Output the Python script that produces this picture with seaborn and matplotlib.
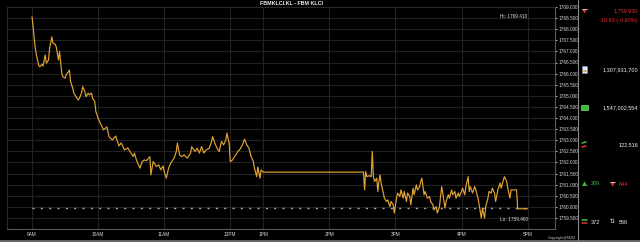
import numpy as np
import pandas as pd
import matplotlib
matplotlib.use("Agg")
import matplotlib.pyplot as plt
import seaborn as sns

# ---------------- data ----------------
# session minutes on the chart's (lunch-compressed) time axis, 0 = 9AM
minutes = [0, 1, 2, 3, 4, 6, 7, 9, 10, 12, 13, 15, 16, 18, 19, 21, 22, 24, 25, 27,
           28, 30, 31, 33, 34, 35, 37, 38, 40, 42, 43, 45, 46, 48, 49, 51, 52, 54, 55, 57,
           58, 60, 62, 65, 68, 70, 73, 76, 79, 81, 84, 87, 89, 92, 93, 95, 98, 100, 102, 104,
           107, 108, 110, 113, 115, 117, 119, 120, 122, 124, 126, 129, 131, 132, 134, 136, 138, 141, 144, 145,
           148, 150, 152, 154, 156, 158, 161, 163, 164, 166, 168, 170, 172, 174, 176, 177, 179, 180, 182, 185,
           187, 189, 191, 193, 195, 197, 199, 201, 202, 204, 205, 207, 208, 210, 301, 302, 303, 304, 306, 308,
           309, 310, 311, 313, 314, 315, 316, 317, 319, 320, 322, 323, 325, 326, 328, 329, 331, 332, 334, 335,
           337, 338, 340, 341, 343, 344, 346, 347, 349, 350, 352, 353, 354, 356, 357, 359, 361, 362, 364, 365,
           367, 368, 370, 372, 373, 375, 376, 378, 379, 381, 382, 384, 385, 387, 388, 390, 391, 393, 394, 396,
           397, 398, 400, 402, 403, 405, 406, 408, 409, 411, 412, 414, 415, 417, 418, 420, 421, 423, 425, 426,
           428, 429, 431, 432, 434, 435, 440, 441, 450]
prices = [1768.56, 1768.11, 1767.59, 1767.14, 1766.84, 1766.39, 1766.31, 1766.42, 1766.34, 1766.84,
          1766.47, 1766.61, 1767.14, 1767.66, 1767.37, 1767.32, 1767.21, 1766.61, 1766.99, 1766.02,
          1765.86, 1765.79, 1765.94, 1766.09, 1766.16, 1765.64, 1765.34, 1765.12, 1764.96, 1764.81,
          1764.89, 1765.12, 1765.41, 1765.19, 1764.96, 1765.12, 1765.04, 1765.12, 1764.89, 1764.74,
          1764.29, 1763.99, 1763.77, 1763.46, 1763.60, 1763.15, 1763.01, 1763.19, 1762.74, 1762.88,
          1762.56, 1762.65, 1762.49, 1762.26, 1762.42, 1762.08, 1761.74, 1762.04, 1762.11, 1762.08,
          1762.26, 1761.44, 1762.04, 1761.81, 1761.89, 1761.66, 1761.84, 1761.59, 1761.29, 1761.74,
          1761.97, 1762.19, 1762.49, 1762.87, 1762.34, 1762.26, 1762.34, 1762.19, 1762.42, 1762.71,
          1762.49, 1762.64, 1762.42, 1762.71, 1762.42, 1762.56, 1762.64, 1762.94, 1763.16, 1762.87,
          1762.64, 1762.49, 1762.94, 1762.79, 1763.01, 1763.32, 1762.87, 1762.04, 1762.11, 1762.34,
          1762.49, 1762.60, 1762.79, 1763.05, 1762.79, 1762.64, 1762.26, 1762.04, 1761.74, 1761.36,
          1761.79, 1761.29, 1761.66, 1761.56, 1761.56, 1760.76, 1761.59, 1761.36, 1761.40, 1761.36,
          1762.49, 1761.36, 1761.14, 1761.29, 1760.69, 1761.14, 1761.44, 1761.07, 1760.62, 1760.39,
          1760.24, 1760.31, 1760.01, 1760.24, 1760.09, 1759.72, 1760.39, 1760.62, 1760.46, 1760.76,
          1760.39, 1760.69, 1760.24, 1760.62, 1760.46, 1760.09, 1760.84, 1760.54, 1760.99, 1760.76,
          1760.91, 1761.14, 1761.29, 1760.54, 1760.69, 1760.39, 1760.46, 1760.24, 1760.09, 1759.86,
          1760.01, 1759.72, 1760.01, 1760.91, 1760.62, 1759.94, 1760.24, 1760.54, 1760.39, 1760.76,
          1760.54, 1760.69, 1760.39, 1760.62, 1760.46, 1760.69, 1760.84, 1760.54, 1760.91, 1761.36,
          1760.69, 1760.91, 1760.62, 1760.91, 1760.76, 1760.39, 1760.09, 1759.49, 1759.94, 1759.49,
          1760.01, 1760.39, 1760.69, 1760.62, 1760.84, 1760.62, 1760.24, 1760.76, 1761.07, 1760.84,
          1761.21, 1761.36, 1761.14, 1760.84, 1760.39, 1760.76, 1760.76, 1759.91, 1759.91]

tick_minutes = [0, 60, 120, 180, 210, 270, 330, 390, 450]
tick_labels = ["9AM", "10AM", "11AM", "12PM", "1PM", "2PM", "3PM", "4PM", "5PM"]
y_ticks = [1759.5 + 0.5 * i for i in range(20)]

title = "FBMKLCI.KL - FBM KLCI"
last_price = 1759.93
hi_label = "Hi: 1769.410"
lo_label = "Lo: 1759.460"
last_text = "1,759.930"
change_text = "-10.60 (-0.60%)"
volume_text = "1,307,931,700"
value_text = "1,547,002,554"
trades_text = "122,516"
up_count, down_count = "209", "644"
unch_count, untraded_count = "372", "566"

df = pd.DataFrame({"minute": minutes, "price": prices})

# ---------------- style ----------------
sns.set_theme(style="dark")
FONT = ["Liberation Sans", "DejaVu Sans"]
plt.rcParams["font.family"] = FONT

BG = "#000000"
GRID = "#222222"
LINE = "#e3a432"
TXT = "#d8d8d8"

fig = plt.figure(figsize=(6.4, 2.42), dpi=100, facecolor=BG)
ax = fig.add_axes([7 / 640, 13 / 242, 548 / 640, 222 / 242], facecolor=BG)

sns.lineplot(data=df, x="minute", y="price", ax=ax, color=LINE, linewidth=0.85,
             estimator=None, sort=False, zorder=3)

# last price dashed line
ax.plot([tick_minutes[0], tick_minutes[-1]], [last_price, last_price], color="#a8a8a8",
        linewidth=1.0, linestyle=(0, (1.5, 4.5)), zorder=2)

ax.set_xlim(-22.7, 474.9)
ax.set_ylim(1759.0, 1769.0)
ax.set_xticks(tick_minutes)
ax.set_xticklabels(tick_labels)
ax.set_yticks(y_ticks)
ax.set_yticklabels([f"{v:.3f}" for v in y_ticks])
ax.yaxis.tick_right()
ax.set_xlabel("")
ax.set_ylabel("")
ax.tick_params(axis="x", colors=TXT, labelsize=3.4, length=0, pad=2.2)
ax.tick_params(axis="y", colors=TXT, labelsize=3.4, length=1.5, width=0.6, pad=1,
               direction="out", right=True, left=False, labelright=True, labelleft=False)
for lab in ax.get_xticklabels() + ax.get_yticklabels():
    lab.set_color(TXT)
ax.grid(True, color=GRID, linewidth=0.8)
for s in ["left", "top"]:
    ax.spines[s].set_color("#2a2a2a")
    ax.spines[s].set_linewidth(0.8)
for s in ["right", "bottom"]:
    ax.spines[s].set_color("#5a5a5a")
    ax.spines[s].set_linewidth(0.8)
ax.spines["right"].set_visible(True)
ax.spines["bottom"].set_visible(True)

# Hi / Lo labels
ax.text(tick_minutes[-1], 1768.55, hi_label, color="#e0e0e0", fontsize=3.4,
        ha="right", va="center", family=FONT)
ax.text(tick_minutes[-1], 1759.45, lo_label, color="#e0e0e0", fontsize=3.4,
        ha="right", va="center", family=FONT)

# ---------------- overlay (title, right panel) ----------------
ov = fig.add_axes([0, 0, 1, 1], facecolor="none")
ov.set_xlim(0, 640)
ov.set_ylim(242, 0)
ov.axis("off")

ov.text(291, 3.2, title, color="#f0f0f0", fontsize=3.9, fontweight="bold",
        ha="center", va="center", family=FONT)
ov.plot([578, 578], [0, 242], color="#8a8a8a", linewidth=0.8)
ov.plot([0, 640], [241, 241], color="#7a7a7a", linewidth=1.2)
ov.text(576, 238, "Copyright@M2N", color="#bbbbbb", fontsize=2.7, ha="right",
        va="center", family=FONT)

RED = "#e8302c"
GREEN = "#3cc43c"
WHITE = "#f0f0f0"
PS = 4.0
ov.plot(584, 11, marker="v", color=RED, markersize=3.2, markeredgewidth=0)
ov.plot([581.5, 586.5], [9, 9], color=WHITE, linewidth=0.5)
ov.text(638, 11, last_text, color=RED, fontsize=PS, ha="right", va="center", family=FONT)
ov.text(638, 20.5, change_text, color=RED, fontsize=PS, ha="right", va="center", family=FONT)

# volume icon
ov.add_patch(plt.Rectangle((582, 66), 5, 7, facecolor="#dfe8f0", edgecolor="#7fa0c0", linewidth=0.4))
ov.plot([583.5, 585.5], [70.5, 70.5], color="#e0a020", linewidth=1.2)
ov.text(638, 70, volume_text, color=WHITE, fontsize=PS, ha="right", va="center", family=FONT)

# value icon
ov.add_patch(plt.Rectangle((581, 105), 7, 4.5, facecolor="#30c030", edgecolor="#b0f0a0", linewidth=0.4))
ov.text(638, 108, value_text, color=WHITE, fontsize=PS, ha="right", va="center", family=FONT)

# trades icon
ov.plot([582, 586], [143, 142], color=GREEN, linewidth=1.1)
ov.plot([582, 586], [147, 146], color=RED, linewidth=1.1)
ov.text(638, 145, trades_text, color=WHITE, fontsize=PS, ha="right", va="center", family=FONT)

# up / down
ov.plot(584, 182.5, marker="^", color=GREEN, markersize=3.2, markeredgewidth=0)
ov.plot([581.5, 586.5], [184.5, 184.5], color=GREEN, linewidth=0.5)
ov.text(591, 183.5, up_count, color=GREEN, fontsize=PS, ha="left", va="center", family=FONT)
ov.plot(612, 183.5, marker="v", color=RED, markersize=3.2, markeredgewidth=0)
ov.plot([609.5, 614.5], [181.5, 181.5], color=WHITE, linewidth=0.5)
ov.text(619, 184, down_count, color=RED, fontsize=PS, ha="left", va="center", family=FONT)

# unchanged / untraded
ov.plot([581.5, 587], [220, 220], color=GREEN, linewidth=1.1)
ov.plot([581.5, 587], [223, 223], color=RED, linewidth=1.1)
ov.text(591, 222, unch_count, color=WHITE, fontsize=PS, ha="left", va="center", family=FONT)
ov.text(612.5, 221, "\u21c5", color=WHITE, fontsize=4.2, ha="center", va="center",
        family=["DejaVu Sans"])
ov.text(619, 222, untraded_count, color=WHITE, fontsize=PS, ha="left", va="center", family=FONT)

fig.savefig("out.png", dpi=100, facecolor=BG)
